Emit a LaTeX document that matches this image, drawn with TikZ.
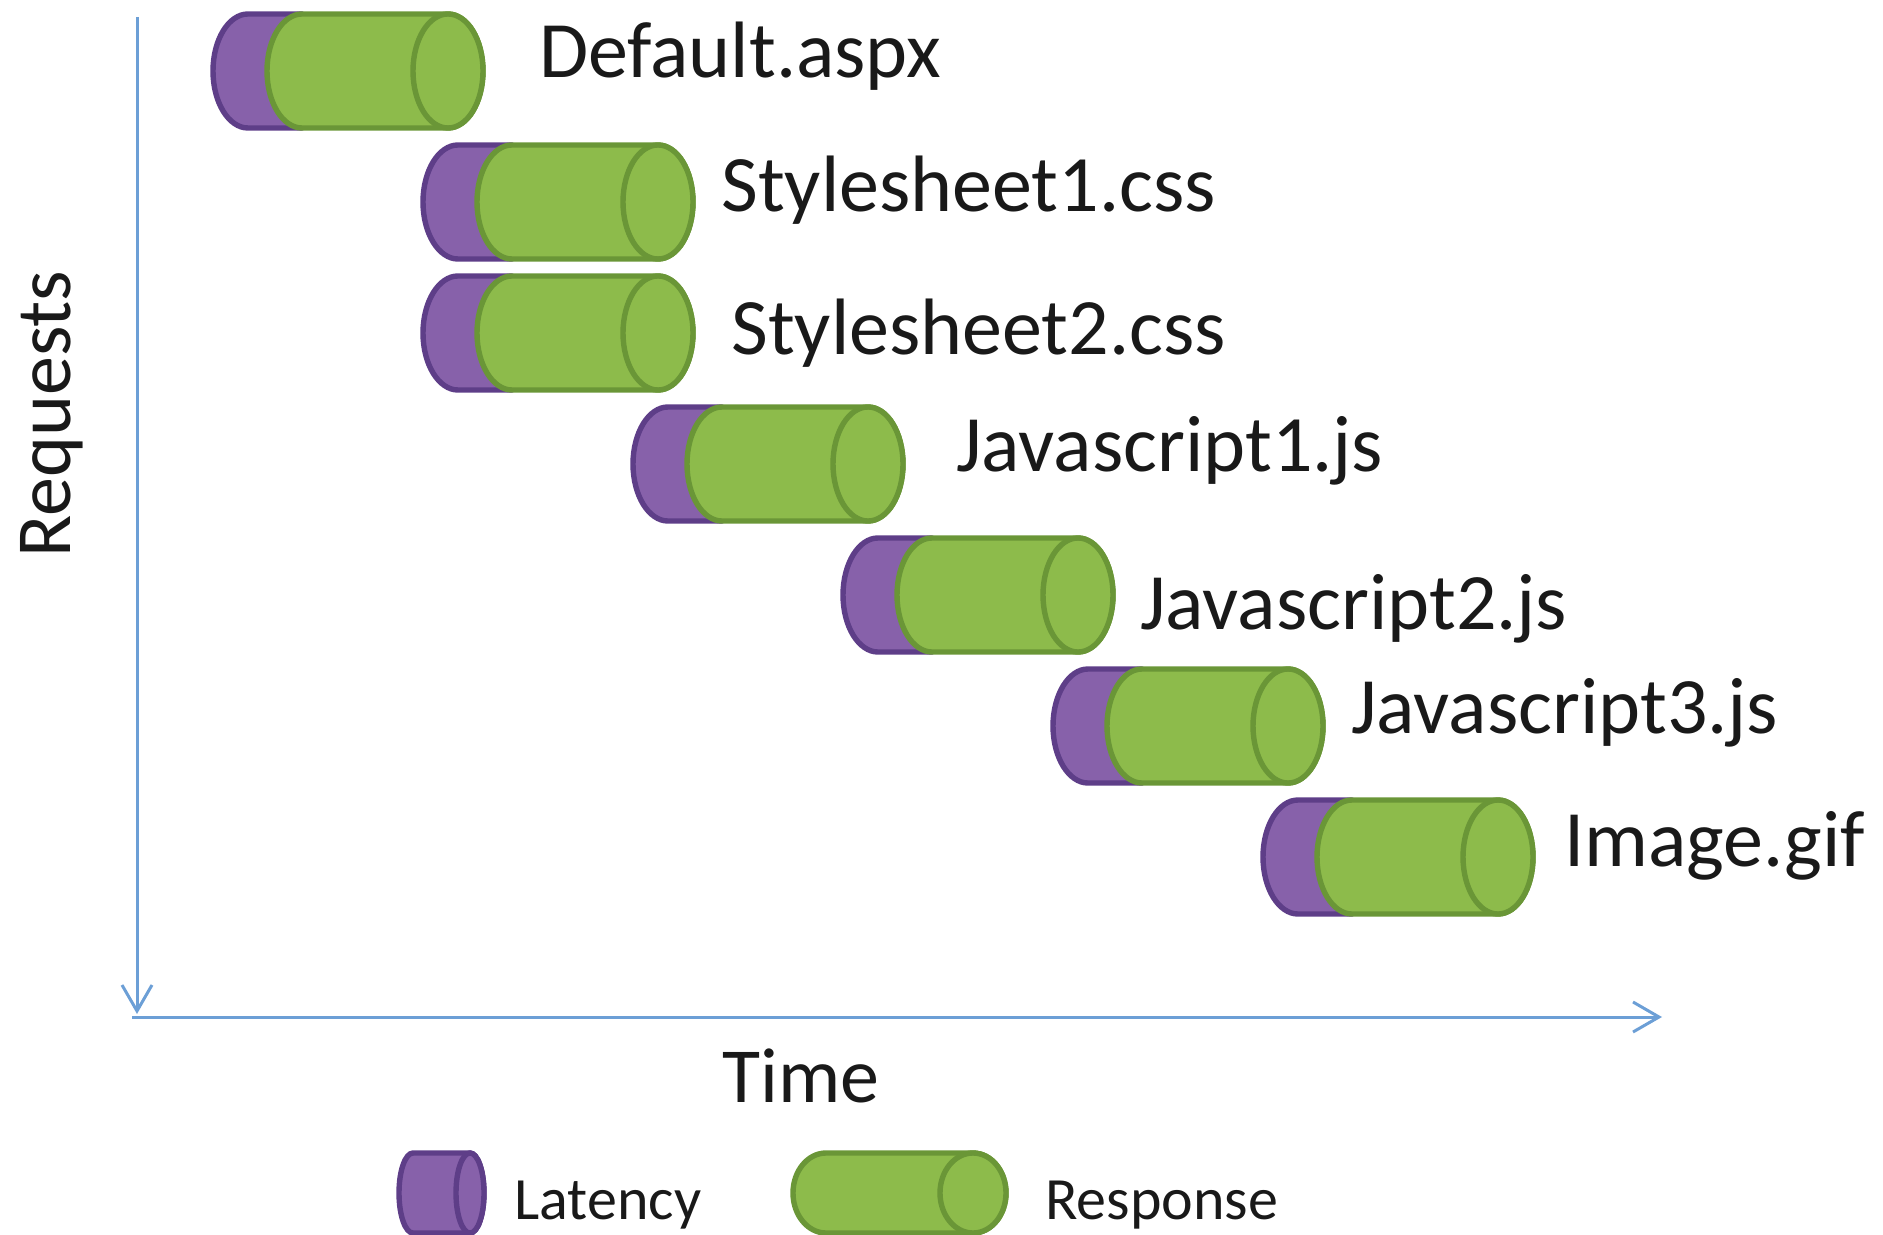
\documentclass[tikz,border=0pt]{standalone}
\usepackage{fontspec}
\setmainfont{Carlito}
\usetikzlibrary{arrows.meta}

\definecolor{latfill}{HTML}{8761AA}
\definecolor{latline}{HTML}{5E3E88}
\definecolor{resfill}{HTML}{8DBB4B}
\definecolor{resline}{HTML}{6A9637}
\definecolor{axisblue}{HTML}{6C9FD6}

\tikzset{
  latency/.style={draw=latline, fill=latfill, line width=2.7pt, line join=round},
  response/.style={draw=resline, fill=resfill, line width=2.7pt, line join=round},
  filename/.style={font=\fontsize{40}{42}\selectfont, anchor=base west, inner sep=0pt, text=black!90},
  axislabel/.style={font=\fontsize{39}{41}\selectfont, inner sep=0pt, text=black!90},
  legendtext/.style={font=\fontsize{30}{32}\selectfont, anchor=base west, inner sep=0pt, text=black!90},
  axisline/.style={draw=axisblue, line width=1.5pt, -{Straight Barb[length=13pt, width=15pt]}}
}

\begin{document}
\begin{tikzpicture}[x=0.5pt, y=-0.5pt]
\useasboundingbox (0,0) rectangle (1883,1235);

% axes
\coordinate (ytop) at (137,17);
\coordinate (ybot) at (137,1014);
\coordinate (xleft) at (132,1017);
\coordinate (xright) at (1662,1017);
\draw[axisline] (ytop) -- (ybot);
\draw[axisline] (xleft) -- (xright);
\node[axislabel, rotate=90, anchor=base] (requests) at (70,414) {Requests};
\node[axislabel, anchor=base] (time) at (801,1102) {Time};

% Default.aspx
\draw[latency, shift={(213,71)}] (89,-57) -- (35,-57) arc [start angle=270, end angle=90, x radius=35, y radius=57] -- (89,57) -- cycle;
\draw[response, shift={(213,71)}] (235,-57) -- (89,-57) arc [start angle=270, end angle=90, x radius=35, y radius=57] -- (235,57) arc [start angle=90, end angle=-90, x radius=35, y radius=57] -- cycle;
\draw[response, shift={(213,71)}] (235,0) ellipse [x radius=35, y radius=57];
\node[filename] (default) at (539,78) {Default.aspx};

% Stylesheet1.css
\draw[latency, shift={(423,202)}] (89,-57) -- (35,-57) arc [start angle=270, end angle=90, x radius=35, y radius=57] -- (89,57) -- cycle;
\draw[response, shift={(423,202)}] (235,-57) -- (89,-57) arc [start angle=270, end angle=90, x radius=35, y radius=57] -- (235,57) arc [start angle=90, end angle=-90, x radius=35, y radius=57] -- cycle;
\draw[response, shift={(423,202)}] (235,0) ellipse [x radius=35, y radius=57];
\node[filename] (css1) at (721,212) {Stylesheet1.css};

% Stylesheet2.css
\draw[latency, shift={(423,333)}] (89,-57) -- (35,-57) arc [start angle=270, end angle=90, x radius=35, y radius=57] -- (89,57) -- cycle;
\draw[response, shift={(423,333)}] (235,-57) -- (89,-57) arc [start angle=270, end angle=90, x radius=35, y radius=57] -- (235,57) arc [start angle=90, end angle=-90, x radius=35, y radius=57] -- cycle;
\draw[response, shift={(423,333)}] (235,0) ellipse [x radius=35, y radius=57];
\node[filename] (css2) at (731,355) {Stylesheet2.css};

% Javascript1.js
\draw[latency, shift={(633,464)}] (89,-57) -- (35,-57) arc [start angle=270, end angle=90, x radius=35, y radius=57] -- (89,57) -- cycle;
\draw[response, shift={(633,464)}] (235,-57) -- (89,-57) arc [start angle=270, end angle=90, x radius=35, y radius=57] -- (235,57) arc [start angle=90, end angle=-90, x radius=35, y radius=57] -- cycle;
\draw[response, shift={(633,464)}] (235,0) ellipse [x radius=35, y radius=57];
\node[filename] (js1) at (956,471) {Javascript1.js};

% Javascript2.js
\draw[latency, shift={(843,595)}] (89,-57) -- (35,-57) arc [start angle=270, end angle=90, x radius=35, y radius=57] -- (89,57) -- cycle;
\draw[response, shift={(843,595)}] (235,-57) -- (89,-57) arc [start angle=270, end angle=90, x radius=35, y radius=57] -- (235,57) arc [start angle=90, end angle=-90, x radius=35, y radius=57] -- cycle;
\draw[response, shift={(843,595)}] (235,0) ellipse [x radius=35, y radius=57];
\node[filename] (js2) at (1140,629) {Javascript2.js};

% Javascript3.js
\draw[latency, shift={(1053,726)}] (89,-57) -- (35,-57) arc [start angle=270, end angle=90, x radius=35, y radius=57] -- (89,57) -- cycle;
\draw[response, shift={(1053,726)}] (235,-57) -- (89,-57) arc [start angle=270, end angle=90, x radius=35, y radius=57] -- (235,57) arc [start angle=90, end angle=-90, x radius=35, y radius=57] -- cycle;
\draw[response, shift={(1053,726)}] (235,0) ellipse [x radius=35, y radius=57];
\node[filename] (js3) at (1351,733) {Javascript3.js};

% Image.gif
\draw[latency, shift={(1263,857)}] (89,-57) -- (35,-57) arc [start angle=270, end angle=90, x radius=35, y radius=57] -- (89,57) -- cycle;
\draw[response, shift={(1263,857)}] (235,-57) -- (89,-57) arc [start angle=270, end angle=90, x radius=35, y radius=57] -- (235,57) arc [start angle=90, end angle=-90, x radius=35, y radius=57] -- cycle;
\draw[response, shift={(1263,857)}] (235,0) ellipse [x radius=35, y radius=57];
\node[filename] (gif) at (1564,866) {Image.gif};

% legend
\draw[latency, shift={(399,1193)}] (71,-40) -- (14,-40) arc [start angle=270, end angle=90, x radius=14, y radius=40] -- (71,40) arc [start angle=90, end angle=-90, x radius=14, y radius=40] -- cycle;
\draw[latency, shift={(399,1193)}] (71,0) ellipse [x radius=14, y radius=40];
\node[legendtext] (latency) at (514,1219) {Latency};
\draw[response, shift={(793,1193)}] (180,-40) -- (33,-40) arc [start angle=270, end angle=90, x radius=33, y radius=40] -- (180,40) arc [start angle=90, end angle=-90, x radius=33, y radius=40] -- cycle;
\draw[response, shift={(793,1193)}] (180,0) ellipse [x radius=33, y radius=40];
\node[legendtext] (response) at (1045,1219) {Response};

\end{tikzpicture}
\end{document}
